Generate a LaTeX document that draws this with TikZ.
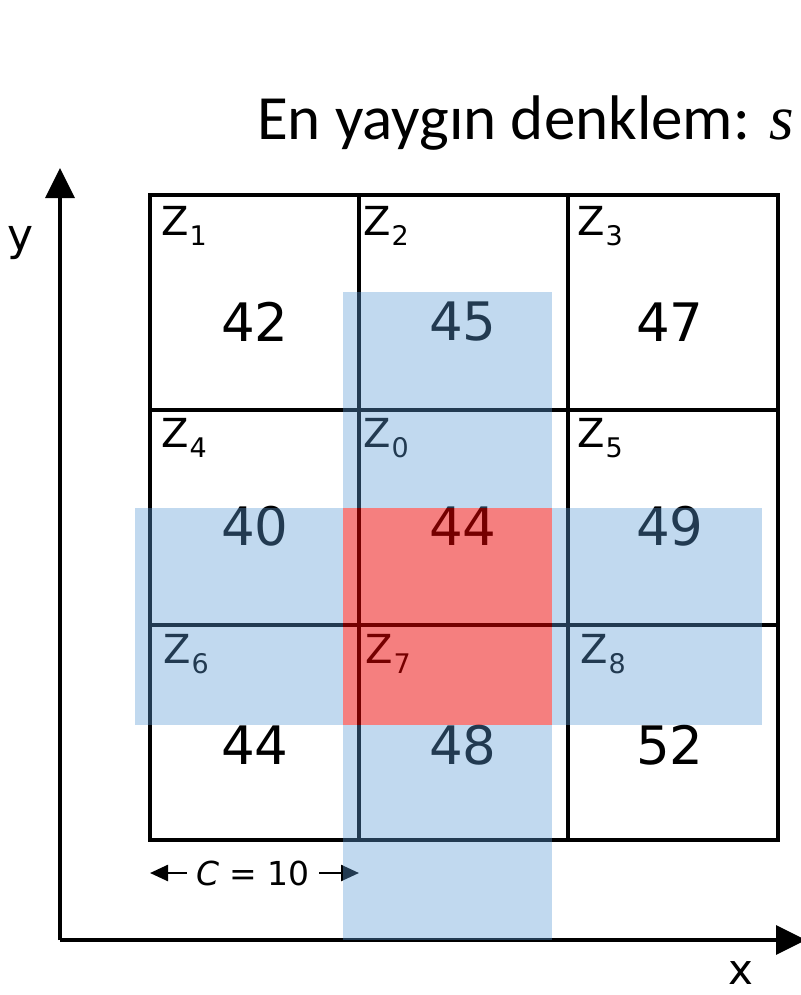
\documentclass[tikz,border=0pt]{standalone}
\usepackage{fontspec}
\setmainfont{DejaVu Sans}
\newfontfamily\titlefont{Carlito}
\newfontfamily\mathitfont{Liberation Serif}
\usetikzlibrary{arrows.meta}
\definecolor{bandblue}{RGB}{91,155,213}
\definecolor{bandred}{RGB}{235,0,0}
\tikzset{
  gridline/.style={line width=3.5pt, black},
  axisline/.style={line width=3.5pt, black, -{Triangle[length=30pt,width=29pt]}},
  dimarrow/.style={line width=2.5pt, black, -{Triangle[length=18pt,width=16pt]}},
  numtxt/.style={inner sep=0pt, font=\fontsize{53}{60}\selectfont},
  zlab/.style={inner sep=0pt, anchor=base west, font=\fontsize{40}{44}\selectfont},
  bluefill/.style={fill=bandblue, fill opacity=0.38, draw=none},
  redfill/.style={fill=bandred, fill opacity=0.5, draw=none},
}
\newcommand{\zl}[1]{Z\kern1pt\raisebox{-10pt}{\fontsize{27}{30}\selectfont #1}}
\begin{document}
\begin{tikzpicture}[x=1pt,y=-1pt]
\useasboundingbox (0,0) rectangle (800,995);
% title
\node[inner sep=0pt, anchor=base west, font=\titlefont\fontsize{63}{70}\selectfont] (title) at (257,140) {En yaygın denklem: {\mathitfont\itshape s}};
% axes
\coordinate (O) at (60,940);
\coordinate (ytip) at (60,168);
\coordinate (xtip) at (806,940);
\draw[axisline] (O) -- (ytip);
\draw[axisline] (O) -- (xtip);
\node[inner sep=0pt, font=\fontsize{44}{48}\selectfont] (ylab) at (21,243) {y};
\node[inner sep=0pt, font=\fontsize{42}{48}\selectfont] (xlab) at (741,973) {x};
% grid
\draw[gridline] (150,195) rectangle (778,840);
\draw[gridline] (359,195) -- (359,840);
\draw[gridline] (568,195) -- (568,840);
\draw[gridline] (150,410) -- (778,410);
\draw[gridline] (150,625) -- (778,625);
% numbers
\node[numtxt] (n1) at (255,322) {42};
\node[numtxt] (n2) at (463,322) {45};
\node[numtxt] (n3) at (670,322) {47};
\node[numtxt] (n4) at (255,526) {40};
\node[numtxt] (n0) at (463,526) {44};
\node[numtxt] (n5) at (670,526) {49};
\node[numtxt] (n6) at (255,745) {44};
\node[numtxt] (n7) at (463,745) {48};
\node[numtxt] (n8) at (670,745) {52};
% z labels
\node[zlab] (z1) at (161,235) {\zl{1}};
\node[zlab] (z2) at (363,235) {\zl{2}};
\node[zlab] (z3) at (577,235) {\zl{3}};
\node[zlab] (z4) at (161,447) {\zl{4}};
\node[zlab] (z0) at (363,447) {\zl{0}};
\node[zlab] (z5) at (577,447) {\zl{5}};
\node[zlab] (z6) at (163,663) {\zl{6}};
\node[zlab] (z7) at (365,663) {\zl{7}};
\node[zlab] (z8) at (580,663) {\zl{8}};
% C = 10
\node[inner sep=0pt, font=\fontsize{33}{38}\selectfont] (clab) at (253,873) {\textit{C} = 10};
\coordinate (cl) at (150,873);
\coordinate (cr) at (359,873);
\draw[dimarrow] (clab.west) ++(-9,0) -- (cl);
\draw[dimarrow] (clab.east) ++(9,0) -- (cr);
% overlays
\fill[bluefill] (343,292) rectangle (552,508);
\fill[bluefill] (343,725) rectangle (552,940);
\fill[bluefill] (135,508) rectangle (343,725);
\fill[bluefill] (552,508) rectangle (762,725);
\fill[redfill] (343,508) rectangle (552,725);
\end{tikzpicture}
\end{document}
